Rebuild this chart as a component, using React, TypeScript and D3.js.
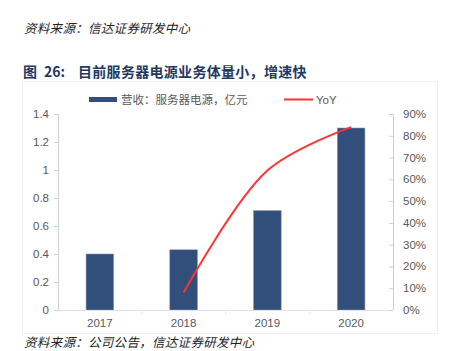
import React from "react";
import * as d3 from "d3";

const categories = ["2017", "2018", "2019", "2020"];
const revenue = [0.4, 0.43, 0.71, 1.3];
const yoyYears = ["2018", "2019", "2020"];
const yoy = [0.08, 0.64, 0.84];
const leftTicks = [0, 0.2, 0.4, 0.6, 0.8, 1, 1.2, 1.4];
const rightTicks = [0, 0.1, 0.2, 0.3, 0.4, 0.5, 0.6, 0.7, 0.8, 0.9];

const W = 453;
const H = 351;
const plot = { left: 58, right: 393, top: 114, bottom: 310 };
const BAR = "#324e7b";
const RED = "#ff3333";
const GRAY_TXT = "#595959";
const AXIS = "#d0d0d0";
const CJK = "'Noto Sans CJK SC', sans-serif";
const LAT = "'Liberation Sans', Arial, sans-serif";

export default function App() {
  const x = d3.scaleBand<string>().domain(categories).range([plot.left, plot.right]).paddingInner(0).paddingOuter(0);
  const yL = d3.scaleLinear().domain([0, 1.4]).range([plot.bottom, plot.top]);
  const yR = d3.scaleLinear().domain([0, 0.9]).range([plot.bottom, plot.top]);
  const bw = x.bandwidth() * 0.33;
  const cx = (c: string) => (x(c) as number) + x.bandwidth() / 2;
  const line = d3
    .line<number>()
    .x((_, i) => cx(yoyYears[i]))
    .y((d) => yR(d))
    .curve(d3.curveCatmullRom.alpha(0.5));

  return (
    <svg width={W} height={H} style={{ position: "absolute", left: 0, top: 0, background: "#fff" }}>
      <text x={24} y={33} fontFamily={CJK} fontSize={12.5} letterSpacing={0.3} fontStyle="italic" fill="#222">
        资料来源：信达证券研发中心
      </text>
      <text y={77} fontFamily={CJK} fontSize={14} fontWeight="bold" fill="#1f3864">
        <tspan x={23}>图</tspan>
        <tspan x={44}>26:</tspan>
        <tspan x={78} letterSpacing={0.3}>目前服务器电源业务体量小，增速快</tspan>
      </text>
      <rect x={22.5} y={81.5} width={415} height={252} fill="none" stroke="#f0f0f0" strokeWidth={1} />

      {/* legend */}
      <rect x={89} y={97} width={28} height={5} fill={BAR} />
      <text x={121} y={103.5} fontFamily={CJK} fontSize={11.5} fill={GRAY_TXT}>
        营收：服务器电源，亿元
      </text>
      <line x1={284} x2={313} y1={99.5} y2={99.5} stroke={RED} strokeWidth={2} />
      <text x={316} y={103.5} fontFamily={LAT} fontSize={11.5} fill={GRAY_TXT}>
        YoY
      </text>

      {/* bars */}
      {categories.map((c, i) => (
        <rect
          key={c}
          x={cx(c) - bw / 2}
          y={yL(revenue[i])}
          width={bw}
          height={plot.bottom - yL(revenue[i])}
          fill={BAR}
          stroke="#8a9bb8"
          strokeWidth={0.6}
        />
      ))}

      {/* x axis */}
      <line x1={plot.left} x2={plot.right} y1={plot.bottom + 0.5} y2={plot.bottom + 0.5} stroke="#e3e3e3" />
      {categories.slice(1).map((c) => (
        <line key={c} x1={(x(c) as number) + 0.5} x2={(x(c) as number) + 0.5} y1={plot.bottom} y2={plot.bottom + 4} stroke="#e3e3e3" />
      ))}
      {categories.map((c) => (
        <text key={c} x={cx(c)} y={327} textAnchor="middle" fontFamily={LAT} fontSize={11.5} fill={GRAY_TXT}>
          {c}
        </text>
      ))}

      {/* left axis */}
      <line x1={plot.left + 0.5} x2={plot.left + 0.5} y1={plot.top} y2={plot.bottom} stroke={AXIS} />
      {leftTicks.map((t) => (
        <g key={t}>
          <line x1={plot.left - 4} x2={plot.left} y1={yL(t) + 0.5} y2={yL(t) + 0.5} stroke={AXIS} />
          <text x={49} y={yL(t) + 4} textAnchor="end" fontFamily={LAT} fontSize={11.5} fill={GRAY_TXT}>
            {d3.format("~g")(t)}
          </text>
        </g>
      ))}

      {/* right axis */}
      <line x1={plot.right + 0.5} x2={plot.right + 0.5} y1={plot.top} y2={plot.bottom} stroke={AXIS} />
      {rightTicks.map((t) => (
        <g key={t}>
          <line x1={plot.right - 4} x2={plot.right} y1={yR(t) + 0.5} y2={yR(t) + 0.5} stroke={AXIS} />
          <text x={403} y={yR(t) + 4} fontFamily={LAT} fontSize={11.5} fill={GRAY_TXT}>
            {d3.format(".0%")(t)}
          </text>
        </g>
      ))}

      {/* yoy line */}
      <path d={line(yoy) || ""} fill="none" stroke={RED} strokeWidth={2} />

      <text x={24} y={347} fontFamily={CJK} fontSize={12.5} letterSpacing={0.3} fontStyle="italic" fill="#222">
        资料来源：公司公告，信达证券研发中心
      </text>
    </svg>
  );
}
